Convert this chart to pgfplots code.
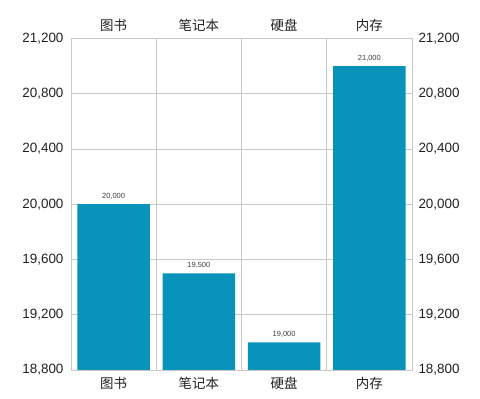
\documentclass[border=0pt]{standalone}
\usepackage{pgfplots}
\pgfplotsset{compat=1.18}
\usepackage{fontspec}
\setmainfont{Liberation Sans}
\newfontfamily\cjk{Noto Sans CJK SC}
\definecolor{barc}{RGB}{8,148,186}
\definecolor{gridc}{RGB}{200,200,200}
\definecolor{txt}{RGB}{33,33,33}
\definecolor{vtxt}{RGB}{60,60,60}
\begin{document}
\begin{tikzpicture}
\path[use as bounding box] (-71bp,-29bp) rectangle (409bp,370bp);
\pgfplotsset{
 common/.style={
  scale only axis, width=341bp, height=331.5bp,
  xmin=-0.5, xmax=3.5, ymin=18800, ymax=21200,
  ytick={18800,19200,19600,20000,20400,20800,21200},
  xtick={0,1,2,3}, xticklabels={图书,笔记本,硬盘,内存},
  minor xtick={0.5,1.5,2.5},
  major tick length=0pt, minor tick length=0pt,
  axis line style={draw=gridc, line width=0.8bp},
  grid style={draw=gridc, line width=0.8bp},
  minor grid style={draw=gridc, line width=0.8bp},
  yticklabel style={font=\fontsize{13.5}{15}\selectfont, text=txt},
  xticklabel style={font=\cjk\fontsize{13.5}{16}\selectfont, text=txt},
  scaled y ticks=false,
  /pgf/number format/assume math mode=true,
  /pgf/number format/1000 sep={,},
 }
}
\begin{axis}[common, ybar, bar width=0.85, xminorgrids, ymajorgrids,
  yticklabel pos=left, xticklabel pos=bottom,
  yticklabel style={xshift=-4bp},
  xticklabel style={yshift=-4bp},
  nodes near coords={\pgfmathprintnumber{\pgfplotspointmeta}},
  nodes near coords style={font=\fontsize{7.5}{9}\selectfont, text=vtxt, yshift=1bp},
]
\addplot[fill=barc, draw=none] coordinates {(0,20000) (1,19500) (2,19000) (3,21000)};
\end{axis}
\begin{axis}[common, yticklabel pos=right, xticklabel pos=top,
  yticklabel style={xshift=3bp},
  xticklabel style={yshift=3bp}]
\end{axis}
\end{tikzpicture}
\end{document}
